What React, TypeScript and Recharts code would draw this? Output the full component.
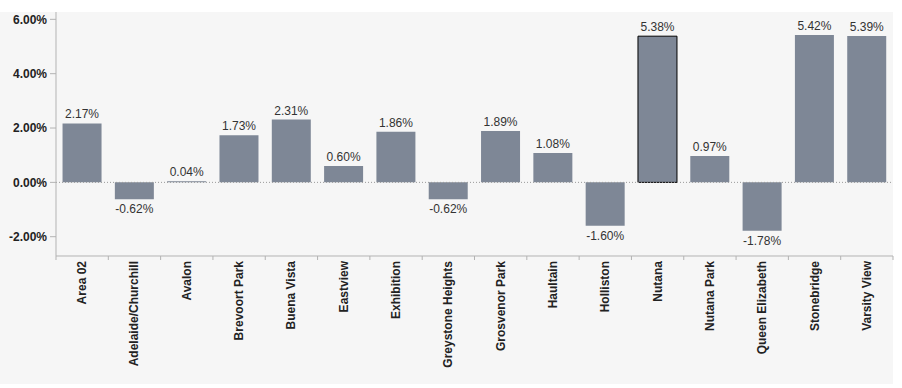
import React from "react";
import { Bar, BarChart, Cell, LabelList, ReferenceLine, XAxis, YAxis } from "recharts";

const neighbourhoods = [
  "Area 02",
  "Adelaide/Churchill",
  "Avalon",
  "Brevoort Park",
  "Buena Vista",
  "Eastview",
  "Exhibition",
  "Greystone Heights",
  "Grosvenor Park",
  "Haultain",
  "Holliston",
  "Nutana",
  "Nutana Park",
  "Queen Elizabeth",
  "Stonebridge",
  "Varsity View",
];
const changePct = [2.17, -0.62, 0.04, 1.73, 2.31, 0.6, 1.86, -0.62, 1.89, 1.08, -1.6, 5.38, 0.97, -1.78, 5.42, 5.39];
const highlighted = "Nutana";
const yTicks = [-2, 0, 2, 4, 6];
const yDomain = [-2.71, 6.27];

const data = neighbourhoods.map((name, i) => ({ name, value: changePct[i] }));

const W = 902;
const H = 388;
const LEFT = 56;
const RIGHT = 9;
const BAND = (W - LEFT - RIGHT) / neighbourhoods.length;
const FONT = "Arial, 'Liberation Sans', sans-serif";
const AXIS = "#b3b3b3";
const BAR = "#7e8796";

const fmt = (v: number) => `${v.toFixed(2)}%`;

function XTick(props: any) {
  const { x, y, payload, index } = props;
  return (
    <g>
      {index === 0 && <line x1={x - BAND / 2} x2={x - BAND / 2} y1={y} y2={y + 4} stroke={AXIS} />}
      <line x1={x + BAND / 2} x2={x + BAND / 2} y1={y} y2={y + 4} stroke={AXIS} />
      <text
        x={x + 4}
        y={y + 5}
        transform={`rotate(-90, ${x + 4}, ${y + 5})`}
        textAnchor="end"
        fontFamily={FONT}
        fontSize={12}
        fontWeight="bold"
        fill="#222"
      >
        {payload.value}
      </text>
    </g>
  );
}

function ValueLabel(props: any) {
  const { x, y, width, height, value } = props;
  const top = Math.min(y, y + height);
  const bottom = Math.max(y, y + height);
  const ty = value >= 0 ? top - 5 : bottom + 14;
  return (
    <text x={x + width / 2} y={ty} textAnchor="middle" fontFamily={FONT} fontSize={12} fill="#333">
      {fmt(value)}
    </text>
  );
}

export default function App() {
  return (
    <div style={{ position: "absolute", left: 0, top: 0, width: W, height: H, background: "#fff" }}>
      <div style={{ position: "absolute", left: 0, top: 12, width: W - RIGHT, height: 372, background: "#f6f6f6" }} />
      <div style={{ position: "absolute", left: 0, top: 0 }}>
        <BarChart
          width={W}
          height={H}
          data={data}
          margin={{ top: 12, right: RIGHT, bottom: 0, left: 0 }}
          barCategoryGap="12.5%"
        >
          <XAxis
            dataKey="name"
            interval={0}
            height={132}
            tickSize={0}
            tickMargin={0}
            tickLine={false}
            axisLine={{ stroke: AXIS }}
            tick={<XTick />}
          />
          <XAxis xAxisId="top" dataKey="name" orientation="top" height={0} tick={false} tickLine={false} axisLine={{ stroke: AXIS }} />
          <YAxis
            width={LEFT}
            domain={yDomain}
            ticks={yTicks}
            tickFormatter={fmt}
            tickSize={6}
            tickMargin={3}
            tickLine={{ stroke: AXIS }}
            axisLine={{ stroke: AXIS }}
            tick={{ fontFamily: FONT, fontSize: 12, fontWeight: "bold", fill: "#222" }}
            allowDataOverflow
          />
          <YAxis yAxisId="r" orientation="right" width={0} domain={yDomain} tick={false} tickLine={false} axisLine={{ stroke: AXIS }} />
          <ReferenceLine y={0} stroke="#9a9a9a" strokeDasharray="1 2" />
          <Bar dataKey="value" isAnimationActive={false}>
            {data.map((d) => (
              <Cell
                key={d.name}
                fill={BAR}
                stroke={d.name === highlighted ? "#000" : "none"}
                strokeWidth={d.name === highlighted ? 1 : 0}
              />
            ))}
            <LabelList dataKey="value" content={<ValueLabel />} />
          </Bar>
        </BarChart>
      </div>
    </div>
  );
}
